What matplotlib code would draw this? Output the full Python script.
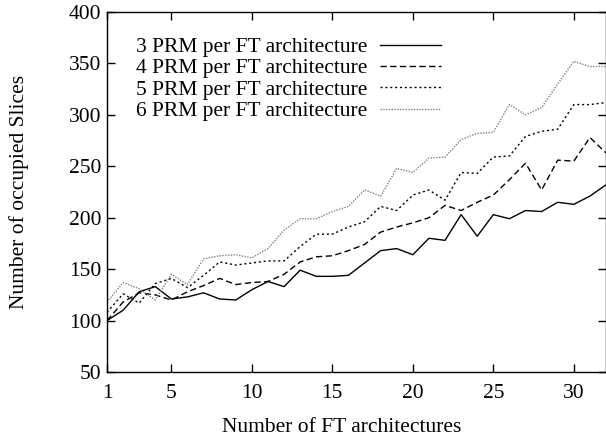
import numpy as np
import matplotlib
matplotlib.use("Agg")
import matplotlib.pyplot as plt

# number of FT architectures
n_arch = list(range(1, 33))

prm3 = [100, 110, 128, 133, 121, 123, 127, 121, 120, 130, 138, 133, 149, 143, 143, 144,
        156, 168, 170, 164, 180, 178, 203, 182, 203, 199, 207, 206, 215, 213, 221, 232]
prm4 = [100, 118, 127, 125, 120, 128, 134, 141, 135, 137, 138, 145, 157, 162, 163, 168,
        174, 186, 191, 195, 200, 212, 207, 215, 222, 237, 253, 227, 256, 255, 278, 263]
prm5 = [108, 126, 117, 136, 141, 132, 144, 157, 154, 156, 158, 158, 172, 184, 184, 191,
        196, 211, 207, 222, 227, 217, 244, 243, 259, 260, 279, 284, 286, 310, 310, 312]
prm6 = [118, 137, 131, 120, 145, 135, 160, 163, 164, 161, 170, 188, 199, 199, 206, 211,
        227, 221, 248, 244, 258, 259, 276, 282, 283, 310, 300, 307, 330, 352, 347, 347]

labels = ["3 PRM per FT architecture", "4 PRM per FT architecture",
          "5 PRM per FT architecture", "6 PRM per FT architecture"]

plt.rcParams['font.family'] = ['Liberation Serif', 'DejaVu Serif']
fs = 15.5

fig = plt.figure(figsize=(6.06, 4.43), dpi=100)
ax = fig.add_axes([107 / 606, 1 - 372 / 443, 1 - 107 / 606, (372 - 12) / 443])

ax.plot(n_arch, prm3, color='black', lw=1.0, label=labels[0])
ax.plot(n_arch, prm4, color='black', lw=1.0, dashes=(4.5, 2.5), label=labels[1])
ax.plot(n_arch, prm5, color='black', lw=1.0, dashes=(1.5, 2), label=labels[2])
ax.plot(n_arch, prm6, color='#808080', lw=1.0, dashes=(1, 1), label=labels[3])

ax.set_xlim(1, 32)
ax.set_ylim(50, 400)
ax.set_xticks([1, 5, 10, 15, 20, 25, 30])
ax.set_yticks(range(50, 401, 50))
ax.tick_params(direction='in', length=6, width=1, top=True, right=True,
               labelsize=fs)
ax.tick_params(axis='x', pad=9)
ax.tick_params(axis='y', pad=4)
for s in ax.spines.values():
    s.set_linewidth(1.0)

ax.set_xlabel("Number of FT architectures", fontsize=fs)
ax.set_ylabel("Number of occupied Slices", fontsize=fs)
ax.xaxis.set_label_coords((342 - 107) / 499, -(418 - 372) / 360)
ax.yaxis.set_label_coords(-(107 - 29) / 499, 0.5)

leg = ax.legend(loc='upper left', bbox_to_anchor=(136 / 606, 1 - 37 / 443),
                bbox_transform=fig.transFigure, frameon=False, markerfirst=False,
                fontsize=fs, handlelength=2.8, handletextpad=0.6,
                labelspacing=0.06, borderpad=0, borderaxespad=0)

fig.savefig("out.png", dpi=100)
